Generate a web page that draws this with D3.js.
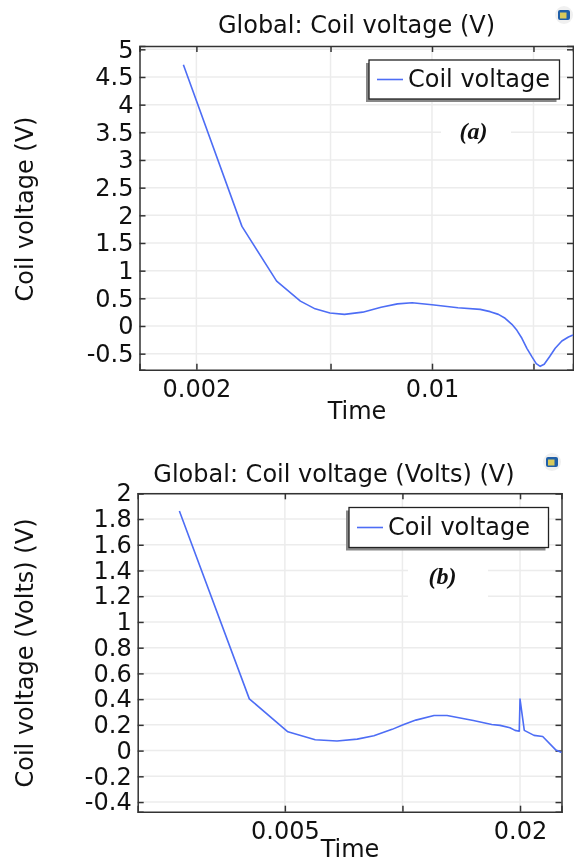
<!DOCTYPE html>
<html>
<head>
<meta charset="utf-8">
<script src="https://cdn.jsdelivr.net/npm/d3@7"></script>
<style>
  html, body { margin: 0; padding: 0; background: #fff; }
  svg { display: block; filter: blur(0.35px); }
  text { font-family: "DejaVu Sans", sans-serif; fill: #111; }
</style>
</head>
<body>
<div id="canvas"></div>
<script>
"use strict";

// Panel (a)
const timeA = [0.00183, 0.00273, 0.00346, 0.00407, 0.0045, 0.00498, 0.0055, 0.00623, 0.00706, 0.0079, 0.00873,
  0.01, 0.01194, 0.0139, 0.01488, 0.01574, 0.01648, 0.01726, 0.01786, 0.01848, 0.01912, 0.01978, 0.02038,
  0.02094, 0.02152, 0.02232, 0.0232, 0.02428, 0.0254, 0.0262];
const voltageA = [4.72, 1.8, 0.81, 0.45, 0.31, 0.235, 0.21, 0.25, 0.34, 0.40, 0.42,
  0.385, 0.33, 0.30, 0.259, 0.21, 0.139, 0.03, -0.078, -0.222, -0.403, -0.555, -0.68,
  -0.729, -0.693, -0.555, -0.403, -0.271, -0.199, -0.163];
const yTicksA = [-0.5, 0, 0.5, 1, 1.5, 2, 2.5, 3, 3.5, 4, 4.5, 5];
const xTicksA = [0.002, 0.005, 0.01, 0.02];
const xLabelsA = ["0.002", "", "0.01", ""];

// Panel (b)
const timeB = [0.002685, 0.004055, 0.00509, 0.00598, 0.0068, 0.00766, 0.00845, 0.00941, 0.01004, 0.01082, 0.01205,
  0.01301, 0.01519, 0.01693, 0.01778, 0.01885, 0.01942, 0.01991, 0.02, 0.02051, 0.02172, 0.02286, 0.02472, 0.02554];
const voltageB = [1.862, 0.402, 0.146, 0.084, 0.074, 0.089, 0.115, 0.165, 0.2, 0.237, 0.273,
  0.273, 0.234, 0.203, 0.196, 0.177, 0.157, 0.151, 0.40, 0.157, 0.118, 0.11, 0.004, -0.014];
const yTicksB = [-0.4, -0.2, 0, 0.2, 0.4, 0.6, 0.8, 1, 1.2, 1.4, 1.6, 1.8, 2];
const xTicksB = [0.005, 0.01, 0.02];
const xLabelsB = ["0.005", "", "0.02"];

const lineColor = "#4d6df5";
const fontSize = "24px";

const svg = d3.select("#canvas").append("svg")
  .attr("width", 574)
  .attr("height", 863);

function drawPanel(p) {
  const x = d3.scaleLog().domain(p.xDomain).range([p.left, p.right]);
  const y = d3.scaleLinear().domain(p.yDomain).range([p.bottom, p.top]);
  const g = svg.append("g");

  // grid
  g.selectAll(".gx").data(p.xTicks).enter().append("line")
    .attr("x1", d => x(d)).attr("x2", d => x(d))
    .attr("y1", p.top).attr("y2", p.bottom)
    .attr("stroke", "#ececec").attr("stroke-width", 1.5);
  g.selectAll(".gy").data(p.yTicks).enter().append("line")
    .attr("x1", p.left).attr("x2", p.right)
    .attr("y1", d => y(d)).attr("y2", d => y(d))
    .attr("stroke", "#ececec").attr("stroke-width", 1.5);

  // white patch left behind the pasted panel letter
  g.append("rect")
    .attr("x", p.patch[0]).attr("y", p.patch[1])
    .attr("width", p.patch[2]).attr("height", p.patch[3])
    .attr("fill", "#fff");

  // axes, ticks point inward on all four sides
  const fmt = d => String(d);
  const left = g.append("g").attr("transform", `translate(${p.left},0)`)
    .call(d3.axisLeft(y).tickValues(p.yTicks).tickFormat(fmt).tickSize(-6).tickPadding(6));
  g.append("g").attr("transform", `translate(${p.right},0)`)
    .call(d3.axisRight(y).tickValues(p.yTicks).tickFormat("").tickSize(-6));
  const bottom = g.append("g").attr("transform", `translate(0,${p.bottom})`)
    .call(d3.axisBottom(x).tickValues(p.xTicks).tickFormat((d, i) => p.xLabels[i]).tickSize(-6).tickPadding(10));
  g.append("g").attr("transform", `translate(0,${p.top})`)
    .call(d3.axisTop(x).tickValues(p.xTicks).tickFormat("").tickSize(-6));

  g.selectAll(".domain").attr("stroke", "#333").attr("stroke-width", 1.5);
  g.selectAll(".tick line").attr("stroke", "#333").attr("stroke-width", 1.5);
  left.selectAll("text").style("font-size", fontSize).style("font-family", "'DejaVu Sans', sans-serif");
  bottom.selectAll("text").style("font-size", fontSize).style("font-family", "'DejaVu Sans', sans-serif");

  // curve
  const line = d3.line()
    .x(d => x(d[0]))
    .y(d => y(d[1]));
  g.append("path")
    .datum(d3.zip(p.time, p.voltage))
    .attr("d", line)
    .attr("fill", "none")
    .attr("stroke", lineColor)
    .attr("stroke-width", 1.6)
    .attr("stroke-linejoin", "round");

  // legend
  const l = p.legend;
  g.append("rect").attr("x", l.x - 3).attr("y", l.y + 3).attr("width", l.w).attr("height", l.h).attr("fill", "#888");
  g.append("rect").attr("x", l.x).attr("y", l.y).attr("width", l.w).attr("height", l.h)
    .attr("fill", "#fff").attr("stroke", "#222").attr("stroke-width", 1.3);
  g.append("line")
    .attr("x1", l.x + 8).attr("x2", l.x + 34)
    .attr("y1", l.y + l.h / 2).attr("y2", l.y + l.h / 2)
    .attr("stroke", lineColor).attr("stroke-width", 1.6);
  g.append("text")
    .attr("x", l.x + 39).attr("y", l.y + l.h / 2 + 7)
    .style("font-size", fontSize)
    .text("Coil voltage");

  // titles
  g.append("text").attr("x", p.titleX).attr("y", p.titleY)
    .attr("text-anchor", "middle").style("font-size", fontSize).text(p.title);
  g.append("text").attr("x", p.xLabelX).attr("y", p.xLabelY)
    .attr("text-anchor", "middle").style("font-size", fontSize).text("Time");
  g.append("text")
    .attr("transform", `translate(33,${p.yLabelY}) rotate(-90)`)
    .attr("text-anchor", "middle").style("font-size", fontSize).text(p.yLabel);

  // panel letter
  g.append("text").attr("x", p.letterX).attr("y", p.letterY)
    .attr("text-anchor", "middle")
    .style("font-family", "'Liberation Serif', serif")
    .style("font-weight", "bold").style("font-style", "italic").style("font-size", "24px")
    .text(p.letter);

  // small toolbar icon in the corner
  const ic = g.append("g").attr("transform", `translate(${p.icon[0]},${p.icon[1]})`);
  ic.append("circle").attr("r", 9).attr("fill", "#f0f0f0");
  ic.append("rect").attr("x", -6).attr("y", -5).attr("width", 12).attr("height", 10).attr("rx", 2).attr("fill", "#1f5fa8");
  ic.append("rect").attr("x", -4).attr("y", -2.5).attr("width", 6.5).attr("height", 6).attr("fill", "#d8c95a");
}

drawPanel({
  left: 139.5, right: 573, top: 46, bottom: 369.7,
  xDomain: [0.001356, 0.0262], yDomain: [-0.79, 5.06],
  xTicks: xTicksA, xLabels: xLabelsA, yTicks: yTicksA,
  time: timeA, voltage: voltageA,
  patch: [441, 107, 70, 50],
  legend: { x: 369, y: 60, w: 190.5, h: 39 },
  title: "Global: Coil voltage (V)", titleX: 356.5, titleY: 33,
  xLabelX: 357, xLabelY: 419,
  yLabel: "Coil voltage (V)", yLabelY: 209,
  letter: "(a)", letterX: 473.5, letterY: 139,
  icon: [564, 15]
});

drawPanel({
  left: 137.7, right: 561.5, top: 493.3, bottom: 811.7,
  xDomain: [0.0021, 0.02554], yDomain: [-0.475, 2],
  xTicks: xTicksB, xLabels: xLabelsB, yTicks: yTicksB,
  time: timeB, voltage: voltageB,
  patch: [408, 565, 80, 45],
  legend: { x: 349, y: 507.5, w: 199.5, h: 40 },
  title: "Global: Coil voltage (Volts) (V)", titleX: 334, titleY: 482,
  xLabelX: 350, xLabelY: 857,
  yLabel: "Coil voltage (Volts) (V)", yLabelY: 653,
  letter: "(b)", letterX: 442.5, letterY: 584,
  icon: [552, 462]
});
</script>
</body>
</html>
